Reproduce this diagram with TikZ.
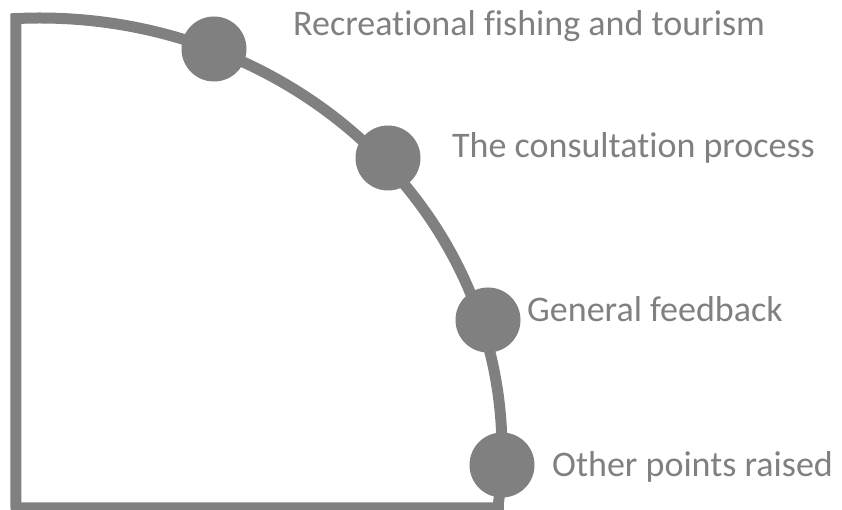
\documentclass[tikz,border=0pt]{standalone}
\usepackage{fontspec}
\setmainfont[Ligatures=NoCommon]{Carlito}
\definecolor{arcgray}{HTML}{808080}

\begin{document}
\begin{tikzpicture}[x=1pt,y=1pt,
  dot/.style={circle,fill=arcgray,inner sep=0pt,minimum size=65pt},
  lbl/.style={anchor=base west,text=arcgray,inner sep=0pt,font=\fontsize{36}{40}\selectfont}]
  \useasboundingbox (0,0) rectangle (842,510);
  % quarter frame with the curved edge
  \draw[arcgray,line width=11pt] (15.8,491.4)
    arc[start angle=93,end angle=-7.3,x radius=462,y radius=432]
    -- (498.3,2) -- (16,2) -- cycle;
  \node[dot] (p1) at (214,461) {};
  \node[dot] (p2) at (388,352) {};
  \node[dot] (p3) at (488,190) {};
  \node[dot] (p4) at (502,45) {};
  \node[lbl] (t1) at (293,474) {Recreational fishing and tourism};
  \node[lbl] (t2) at (452,352) {The consultation process};
  \node[lbl] (t3) at (527,188) {General feedback};
  \node[lbl] (t4) at (552,33) {Other points raised};
\end{tikzpicture}
\end{document}
